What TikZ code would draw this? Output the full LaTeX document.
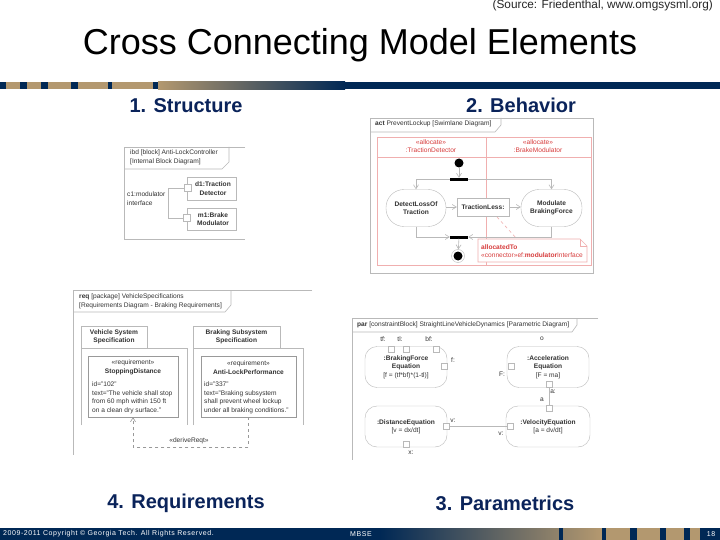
\documentclass[tikz,border=0pt]{standalone}
\usepackage{fontspec}
\setmainfont{Liberation Sans}
\newfontfamily\footfont[LetterSpace=8]{Liberation Sans}
\usetikzlibrary{arrows.meta, positioning, shapes.geometric}
\definecolor{bandNavy}{RGB}{0, 40, 85}
\definecolor{bandTan}{RGB}{179, 152, 111}
\definecolor{headNavy}{RGB}{10, 35, 90}
\definecolor{lineGray}{RGB}{185, 185, 185}
\definecolor{allocRed}{RGB}{215, 60, 60}
\definecolor{laneRed}{RGB}{240, 175, 175}

\begin{document}
\begin{tikzpicture}[
    x=1pt, y=-1pt,
    heading/.style={font=\fontsize{20}{22}\selectfont\bfseries, text=headNavy, inner sep=0pt},
    tiny/.style={font=\fontsize{6.6}{8.4}\selectfont, text=black!80, inner sep=0pt, align=center},
    frameline/.style={draw=lineGray, line width=0.6pt},
    block/.style={draw=lineGray, rounded corners=12pt, fill=white, align=center, font=\fontsize{6.6}{8.4}\selectfont, text=black!80, inner sep=0pt},
    action/.style={draw=lineGray, rounded corners=18pt, fill=white, align=center, font=\fontsize{6.6}{8.4}\selectfont\bfseries, text=black!80, inner sep=0pt},
    port/.style={draw=lineGray, fill=white, minimum size=6pt, inner sep=0pt},
    reqbox/.style={draw=gray!80, fill=white, minimum width=#1, minimum height=61pt, inner sep=0pt},
    pkgtab/.style={draw=lineGray, fill=white, align=center, font=\fontsize{6.6}{8.4}\selectfont\bfseries, text=black!80, inner sep=0pt},
    bar/.style={fill=black, minimum width=18pt, minimum height=3pt, inner sep=0pt},
    flow/.style={draw=lineGray, line width=0.6pt, -{Straight Barb[length=4pt,width=5pt]}}
]
    \useasboundingbox (0,0) rectangle (720,540);
    \fill[white] (0,0) rectangle (720,540);

    % Bands
    \fill[bandTan] (0,82) rectangle (158,89.5);
    \fill[left color=bandTan, right color=bandNavy] (158,82) rectangle (345,89.5);
    \fill[bandNavy] (345,82) rectangle (720,89.5);
    \foreach \a/\b in {0/6, 20/27, 41/48, 71/78, 108/112, 153/158}
        \fill[bandNavy] (\a,82) rectangle (\b,89.5);
    \fill[bandNavy] (0,528) rectangle (380,540);
    \fill[left color=bandNavy, right color=bandTan] (380,528) rectangle (600,540);
    \fill[bandTan] (600,528) rectangle (720,540);
    \foreach \a/\b in {559/563, 602/606, 630/637, 660/666, 684/690, 700/720}
        \fill[bandNavy] (\a,528) rectangle (\b,540);

    % Titles
    \node[anchor=east, inner sep=0pt, font=\fontsize{11.8}{13}\selectfont, text=black!85] (source) at (713,5) {(Source: Friedenthal, www.omgsysml.org)};
    \node[inner sep=0pt, font=\fontsize{36}{40}\selectfont] (title) at (360,45) {Cross Connecting Model Elements};
    \node[heading] (structure) at (186,105.5) {1. Structure};
    \node[heading] (behavior) at (521,105.5) {2. Behavior};
    \node[heading] (requirements) at (186,503.5) {4. Requirements};
    \node[heading] (parametrics) at (505,503.5) {3. Parametrics};

    % Footer
    \node[anchor=west, inner sep=0pt, text=white, font=\fontsize{7}{8}\footfont] (copyright) at (3,534) {2009-2011 Copyright © Georgia Tech. All Rights Reserved.};
    \node[anchor=west, inner sep=0pt, text=white, font=\fontsize{7}{8}\footfont] (mbse) at (350,534) {MBSE};
    \node[inner sep=0pt, text=white, font=\fontsize{7}{8}\footfont] (pageno) at (711,534) {18};

    % Structure
    \draw[frameline] (245,147) -- (124,147) -- (124,239) -- (245,239);
    \draw[frameline] (124,169) -- (222,169) -- (229,162) -- (229,147);
    \node[tiny, anchor=north west, align=left] (ibdlabel) at (130,150) {ibd [block] Anti-LockController\\{}[Internal Block Diagram]};
    \node[draw=lineGray, fill=white, minimum width=49pt, minimum height=23pt, inner sep=0pt, tiny, font=\fontsize{6.6}{8.4}\selectfont\bfseries] (detector) at (211.5,188.5) {\hspace{3pt}d1:Traction\\\hspace{3pt}Detector};
    \node[draw=lineGray, fill=white, minimum width=49pt, minimum height=22pt, inner sep=0pt, tiny, font=\fontsize{6.6}{8.4}\selectfont\bfseries] (modulator) at (211.5,219) {\hspace{3pt}m1:Brake\\\hspace{3pt}Modulator};
    \node[port, minimum size=7pt] (dport) at (188,188) {};
    \node[port, minimum size=7pt] (mport) at (187,218) {};
    \coordinate (cbend) at (168,188);
    \draw[frameline] (dport.west) -- (cbend) |- (mport.west);
    \node[tiny, anchor=north west, align=left] (clabel) at (127,192) {c1:modulator\\interface};

    % Behavior
    \draw[frameline] (370,118) rectangle (593,273);
    \draw[frameline] (370,132) -- (495,132) -- (501,125) -- (501,118);
    \node[tiny, anchor=west] (actlabel) at (375,124) {\textbf{act} PreventLockup [Swimlane Diagram]};
    \draw[laneRed, line width=0.6pt] (377,137) rectangle (591,265);
    \draw[laneRed, line width=0.6pt] (377,157) -- (591,157);
    \draw[laneRed, line width=0.6pt] (486,137) -- (486,265);
    \node[tiny, text=allocRed] (lane1) at (431,146) {«allocate»\\:TractionDetector};
    \node[tiny, text=allocRed] (lane2) at (538,146) {«allocate»\\:BrakeModulator};
    \node[circle, fill=black, minimum size=9pt, inner sep=0pt] (start) at (459,163) {};
    \node[bar] (fork) at (459,179.5) {};
    \node[bar] (join) at (459,237) {};
    \node[circle, draw=lineGray, minimum size=13pt, inner sep=0pt] (stop) at (458,256) {};
    \node[circle, fill=black, minimum size=9pt, inner sep=0pt] (stopdot) at (stop) {};
    \node[action, minimum width=60pt, minimum height=37pt] (detect) at (416,208) {DetectLossOf\\Traction};
    \node[action, minimum width=61pt, minimum height=37pt] (modulate) at (551.5,208) {Modulate\\BrakingForce};
    \node[draw=lineGray, fill=white, minimum width=52pt, minimum height=18pt, inner sep=0pt, font=\fontsize{6.6}{8.4}\selectfont\bfseries, text=black!80] (tractionless) at (483,207) {TractionLess:};
    \draw[flow] (start) -- (fork);
    \draw[flow] (fork.west) -| (detect.north);
    \draw[flow] (fork.east) -| (modulate.north);
    \draw[flow] (detect.east |- tractionless) -- (tractionless.west);
    \draw[flow] (tractionless.east) -- (modulate.west |- tractionless);
    \draw[flow] (detect.south) |- (join.west);
    \draw[flow] (modulate.south) |- (join.east);
    \draw[flow] (join) -- (stop);
    % Note
    \draw[laneRed, line width=0.6pt, fill=white] (478,239) -- (580,239) -- (587,246) -- (587,262) -- (478,262) -- cycle;
    \draw[laneRed, line width=0.6pt] (580,239) |- (587,246);
    \node[tiny, anchor=west, align=left, text=allocRed] (notetext) at (481,251) {\textbf{allocatedTo}\\«connector»ef:\textbf{modulator}Interface};
    \coordinate (notefoot) at (497,217);
    \coordinate (notehead) at (517,239);
    \draw[laneRed, line width=0.6pt, dashed] (notefoot) -- (notehead);

    % Requirements
    \draw[frameline] (312,290) -- (73,290) -- (73,455);
    \draw[frameline] (73,312) -- (225,312) -- (231,305) -- (231,290);
    \node[tiny, anchor=north west, align=left] (reqlabel) at (79,294) {\textbf{req} [package] VehicleSpecifications\\{}[Requirements Diagram - Braking Requirements]};
    \draw[frameline] (81,425) -- (81,348) -- (187,348) -- (187,425);
    \draw[frameline] (193,425) -- (193,348) -- (303,348) -- (303,425);
    \node[pkgtab, minimum width=66pt, minimum height=22pt] (vehiclespec) at (114,337) {Vehicle System\\Specification};
    \node[pkgtab, minimum width=87pt, minimum height=22pt] (brakingspec) at (236.5,337) {Braking Subsystem\\Specification};
    \node[reqbox=90pt] (stopping) at (133,386.5) {};
    \node[reqbox=95pt] (antilock) at (248.5,386.5) {};
    \node[tiny] (stoppingname) at (133,367.5) {«requirement»\\\textbf{StoppingDistance}};
    \node[tiny] (antilockname) at (248.5,367.5) {«requirement»\\\textbf{Anti-LockPerformance}};
    \node[tiny, anchor=north west, align=left] (stoppingtext) at (92,382) {id="102"\\text="The vehicle shall stop\\from 60 mph within 150 ft\\on a clean dry surface."};
    \node[tiny, anchor=north west, align=left] (antilocktext) at (204,382) {id="337"\\text="Braking subsystem\\shall prevent wheel lockup\\under all braking conditions."};
    \coordinate (derivebend) at (190,447);
    \draw[draw=gray!80, line width=0.6pt, dashed, -{Straight Barb[length=4pt,width=5pt]}] (antilock.south) |- (derivebend) -| (stopping.south);
    \node[tiny, fill=white] (derive) at (189,441) {«deriveReqt»};

    % Parametrics
    \draw[frameline] (598,318) -- (352,318) -- (352,460);
    \draw[frameline] (352,332) -- (572,332) -- (577,325) -- (577,318);
    \node[tiny, anchor=west] (parlabel) at (357,325) {\textbf{par} [constraintBlock] StraightLineVehicleDynamics [Parametric Diagram]};
    \node[block, minimum width=82pt, minimum height=41pt] (brakingeq) at (406,367) {\textbf{:BrakingForce}\\\textbf{Equation}\\{}[f = (tf*bf)*(1-tl)]};
    \node[block, minimum width=82pt, minimum height=41pt] (accelseq) at (548,367) {\textbf{:Acceleration}\\\textbf{Equation}\\{}[F = ma]};
    \node[block, minimum width=82pt, minimum height=41pt] (distanceeq) at (406,426.5) {\textbf{:DistanceEquation}\\{}[v = dx/dt]};
    \node[block, minimum width=84pt, minimum height=41pt] (velocityeq) at (548,426.5) {\textbf{:VelocityEquation}\\{}[a = dv/dt]};
    \foreach \name/\px/\py in {ptf/391/349, ptl/406/349, pbf/436/349, pf/444/366, pF/511/366, pa/549/384, pav/549/408, pv/446/426, pvv/510/426, px/406/444}
        \node[port] (\name) at (\px,\py) {};
    \draw[frameline] (pa) -- (pav);
    \draw[frameline] (pv) -- (pvv);
    \foreach \txt/\px/\py in {tf:/383/339, tl:/400/339, bf:/429/339, o/542/339, f:/453/360, F:/502/374, a:/553/392, a/542/400, v:/453/421, v:/501/434, x:/411/453}
        \node[tiny] at (\px,\py) {\txt};
\end{tikzpicture}
\end{document}
